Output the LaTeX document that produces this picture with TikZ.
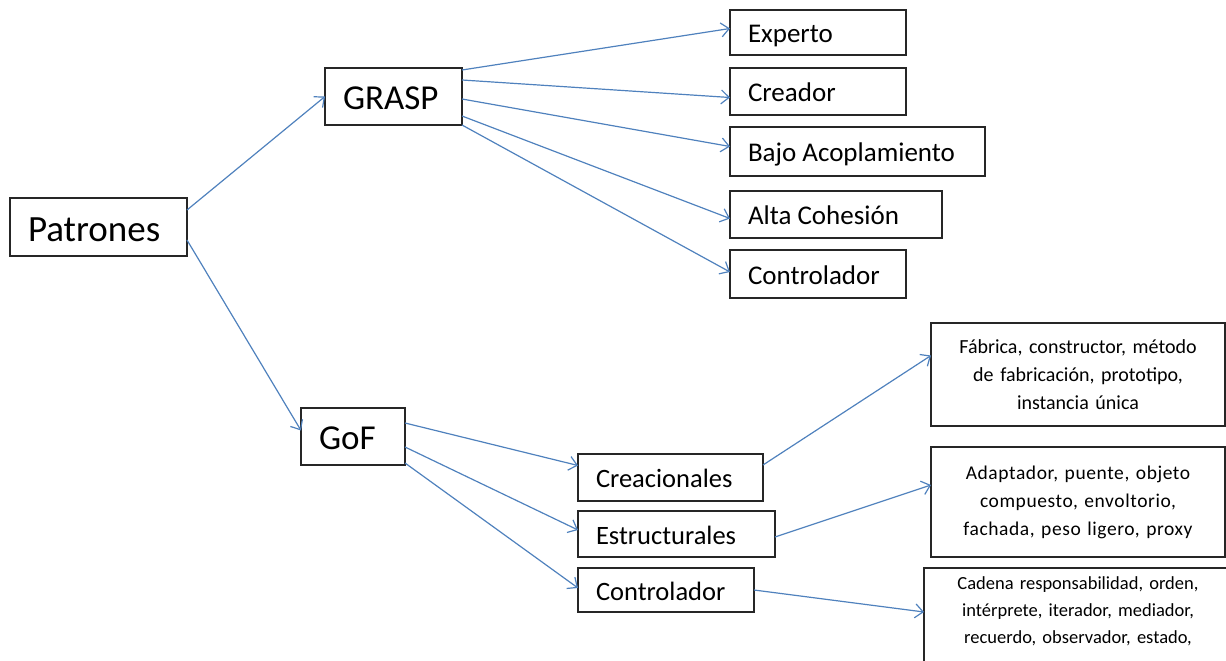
\documentclass[tikz,border=0pt]{standalone}
\usepackage{fontspec}
\setmainfont{Carlito}
\newfontfamily\spacedfont[LetterSpace=3]{Carlito}
\usetikzlibrary{arrows.meta,calc}

\definecolor{linkblue}{RGB}{79,129,189}

% left-aligned label inside a box of fixed inner width
\newcommand{\lefttext}[2]{\makebox[#1][l]{#2}}

\tikzset{
  x=1pt, y=-1pt,
  boxbase/.style={draw=black!85, line width=1.4pt, fill=white, anchor=north west,
    inner ysep=0pt, outer sep=0pt},
  lbox/.style={boxbase, inner xsep=18pt, text depth=0pt},
  cbox/.style={boxbase, inner xsep=6pt, align=center},
  link/.style={draw=linkblue, line width=1.2pt,
    -{Straight Barb[length=8pt,width=14pt,line width=1.2pt]}},
}

\begin{document}
\begin{tikzpicture}
\useasboundingbox (0,0) rectangle (1226,661);

% root and the two families
\node[lbox, font=\fontsize{37}{40}\selectfont, text height=28pt, minimum height=58pt]
  (pat) at (10,198) {\lefttext{141pt}{Patrones}};
\node[lbox, font=\fontsize{35}{38}\selectfont, text height=26pt, minimum height=57pt]
  (grasp) at (325,68) {\lefttext{101pt}{GRASP}};
\node[lbox, font=\fontsize{35}{38}\selectfont, text height=26pt, minimum height=57pt]
  (gof) at (301,408) {\lefttext{68pt}{GoF}};

% GRASP patterns
\begin{scope}[every node/.append style={font=\fontsize{27}{30}\selectfont, text height=20.5pt}]
\node[lbox, minimum height=45pt] (exp)  at (730,10)  {\lefttext{140pt}{Experto}};
\node[lbox, minimum height=47pt] (cre)  at (730,68)  {\lefttext{140pt}{Creador}};
\node[lbox, minimum height=49pt] (bajo) at (730,127) {\lefttext{219pt}{Bajo Acoplamiento}};
\node[lbox, minimum height=47pt] (alta) at (730,191) {\lefttext{176pt}{Alta Cohesión}};
\node[lbox, minimum height=48pt] (ctl)  at (730,250) {\lefttext{140pt}{Controlador}};
\end{scope}

% GoF categories
\begin{scope}[every node/.append style={font=\fontsize{26.5}{30}\selectfont, text height=20pt}]
\node[lbox, minimum height=47pt] (crea) at (578,454) {\lefttext{149pt}{Creacionales}};
\node[lbox, minimum height=46pt] (estr) at (578,511) {\lefttext{161pt}{Estructurales}};
\node[lbox, minimum height=44pt] (ctlg) at (578,568) {\lefttext{140pt}{Controlador}};
\end{scope}

% GoF pattern lists
\node[cbox, font=\fontsize{20}{28}\selectfont, text width=282pt, minimum height=103pt]
  (lcrea) at (931,323)
  {Fábrica, constructor, método\\de fabricación, prototipo,\\instancia única};
\node[cbox, font=\spacedfont\fontsize{19.5}{28}\selectfont, text width=282pt, minimum height=110pt]
  (lestr) at (931,447)
  {Adaptador, puente, objeto\\compuesto, envoltorio,\\fachada, peso ligero, proxy};
\node[cbox, font=\fontsize{18.5}{27}\selectfont, text width=296pt, inner ysep=9pt]
  (lcomp) at (924,568)
  {Cadena responsabilidad, orden,\\intérprete, iterador, mediador,\\recuerdo, observador, estado,\\[6pt]\strut};

% connectors
\draw[link] ($(pat.north east)+(0,12)$) -- (grasp.west);
\draw[link] ($(pat.north east)+(0,42)$) -- ($(gof.west)+(0,-6)$);

\draw[link] ($(grasp.north east)+(0,2)$)  -- ($(exp.west)+(0,-4)$);
\draw[link] ($(grasp.north east)+(0,12)$) -- ($(cre.west)+(0,6)$);
\draw[link] ($(grasp.north east)+(0,31)$) -- ($(bajo.west)+(0,-5)$);
\draw[link] ($(grasp.north east)+(0,48)$) -- ($(alta.west)+(0,4)$);
\draw[link] (grasp.south east) -- ($(ctl.west)+(0,-2)$);

\draw[link] ($(gof.north east)+(0,15)$) -- ($(crea.west)+(0,-12)$);
\draw[link] ($(gof.north east)+(0,39)$) -- ($(estr.west)+(0,-4)$);
\draw[link] ($(gof.south east)+(0,-2)$) -- ($(ctlg.west)+(0,-2)$);

\draw[link] ($(crea.north east)+(0,11)$) -- ($(lcrea.west)+(0,-19)$);
\draw[link] ($(estr.east)+(0,3)$) -- ($(lestr.west)+(0,-17)$);
\draw[link] (ctlg.east) -- ($(lcomp.north west)+(0,44)$);
\end{tikzpicture}
\end{document}
